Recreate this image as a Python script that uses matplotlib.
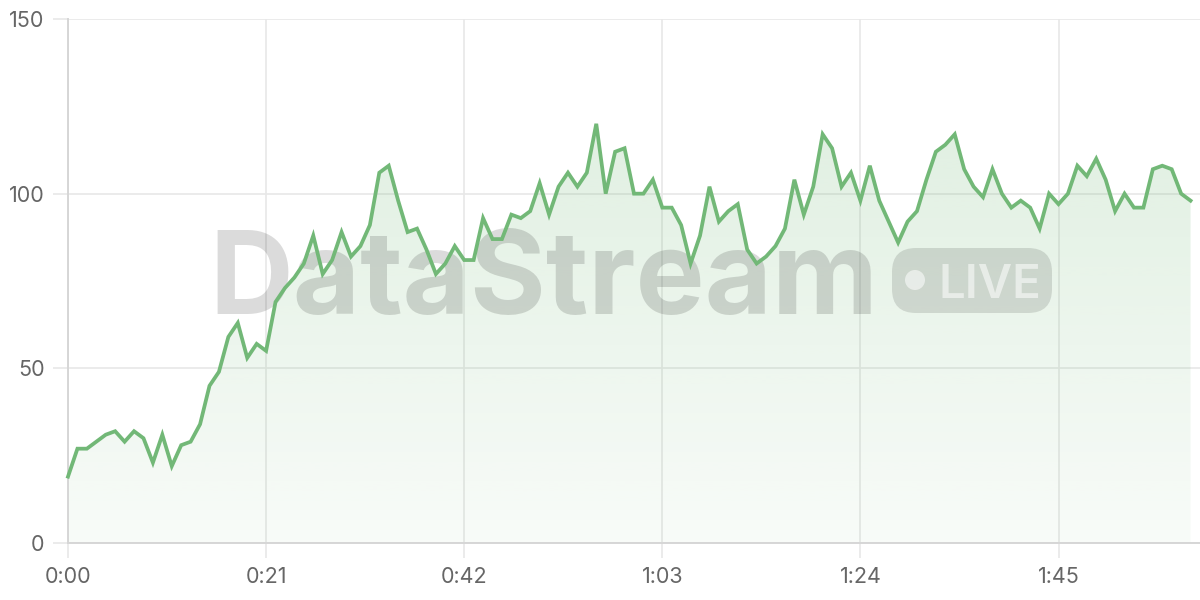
import matplotlib
matplotlib.use("Agg")
import matplotlib.pyplot as plt
import numpy as np
from matplotlib.patches import FancyBboxPatch, Circle
from matplotlib.transforms import IdentityTransform

# one reading per second, 0:00 .. 1:59
values = [19, 27, 27, 29, 31, 32, 29, 32, 30, 23,
          31, 22, 28, 29, 34, 45, 49, 59, 63, 53,
          57, 55, 69, 73, 76, 80, 88, 77, 81, 89,
          82, 85, 91, 106, 108, 98, 89, 90, 84, 77,
          80, 85, 81, 81, 93, 87, 87, 94, 93, 95,
          103, 94, 102, 106, 102, 106, 120, 100, 112, 113,
          100, 100, 104, 96, 96, 91, 80, 88, 102, 92,
          95, 97, 84, 80, 82, 85, 90, 104, 94, 102,
          117, 113, 102, 106, 98, 108, 98, 92, 86, 92,
          95, 104, 112, 114, 117, 107, 102, 99, 107, 100,
          96, 98, 96, 90, 100, 97, 100, 108, 105, 110,
          104, 95, 100, 96, 96, 107, 108, 107, 100, 98]
seconds = np.arange(len(values))

x_ticks = [0, 21, 42, 63, 84, 105]
x_tick_labels = ['0:00', '0:21', '0:42', '1:03', '1:24', '1:45']
y_ticks = [0, 50, 100, 150]

line_color = '#72b877'
grid_color = '#e8e8e8'
axis_color = '#d6d6d6'
label_color = '#666666'

plt.rcParams['font.family'] = ['Inter', 'DejaVu Sans']

fig = plt.figure(figsize=(12, 6), dpi=100)
ax = fig.add_axes([68 / 1200, 57 / 600, 1132 / 1200, 524 / 600])
ax.set_xlim(0, 120)
ax.set_ylim(0, 150)

# grid + ticks
ax.set_xticks(x_ticks)
ax.set_xticklabels(x_tick_labels)
ax.set_yticks(y_ticks)
ax.grid(True, color=grid_color, linewidth=1.2)
ax.set_axisbelow(True)
ax.tick_params(axis='both', length=11, width=1.2, color=grid_color,
               labelcolor=label_color, labelsize=15.5, pad=6)
for side in ['top', 'right']:
    ax.spines[side].set_visible(False)
for side in ['left', 'bottom']:
    ax.spines[side].set_color(axis_color)
    ax.spines[side].set_linewidth(1.4)

# gradient area under the line
poly = ax.fill_between(seconds, values, 0, color='none', linewidth=0)
grad = np.zeros((256, 1, 4))
grad[:, 0, 0] = 115 / 255
grad[:, 0, 1] = 185 / 255
grad[:, 0, 2] = 120 / 255
grad[:, 0, 3] = np.linspace(0.26, 0.05, 256)
im = ax.imshow(grad, extent=[0, 120, 0, 150], aspect='auto',
               origin='upper', zorder=1, interpolation='bilinear')
im.set_clip_path(poly.get_paths()[0], transform=ax.transData)

# watermark
px = IdentityTransform()
ax.text(209, 286, 'DataStream', transform=px, fontsize=83.5, fontweight='bold',
        color='black', alpha=0.14, ha='left', va='baseline', zorder=2,
        clip_on=False)
ax.add_patch(FancyBboxPatch((892, 287), 160, 65,
                            boxstyle='round,pad=0,rounding_size=24',
                            transform=px, facecolor='black', alpha=0.12,
                            edgecolor='none', zorder=2, clip_on=False))
ax.add_patch(Circle((915, 320), 10, transform=px, facecolor='white',
                    alpha=0.55, edgecolor='none', zorder=2.1, clip_on=False))
ax.text(938, 302, 'LIVE', transform=px, fontsize=34, fontweight='semibold',
        color='white', alpha=0.55, ha='left', va='baseline', zorder=2.1,
        clip_on=False)

ax.plot(seconds, values, color=line_color, linewidth=2.7,
        solid_joinstyle='miter', zorder=3, clip_on=False)

fig.savefig('out.png', dpi=100, facecolor='white')
